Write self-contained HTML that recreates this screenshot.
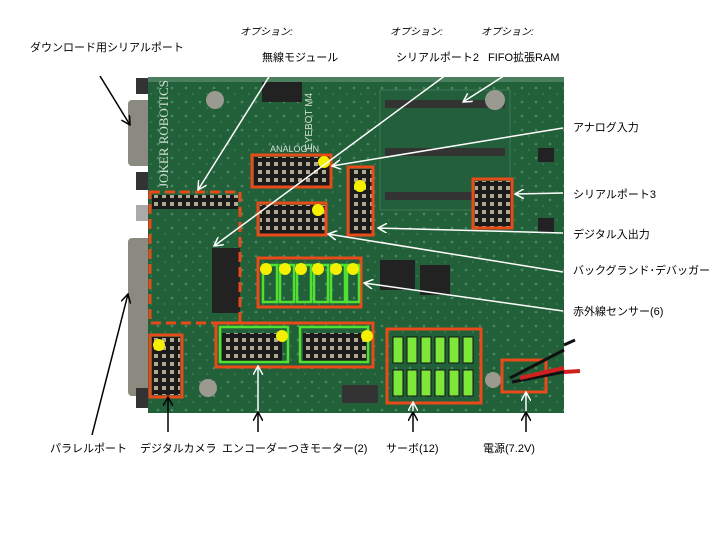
<!DOCTYPE html>
<html><head><meta charset="utf-8"><style>
body{margin:0;background:#fff;width:720px;height:540px;overflow:hidden}
svg text{font-family:"Liberation Sans","Noto Sans CJK JP",sans-serif;font-size:11px;fill:#000}
</style></head><body>
<svg width="720" height="540" viewBox="0 0 720 540">
<defs>
<marker id="aw" markerWidth="10" markerHeight="10" refX="9" refY="5" orient="auto" markerUnits="userSpaceOnUse"><path d="M0,0 L9,5 L0,10" fill="none" stroke="#fff" stroke-width="1.5"/></marker>
<marker id="ab" markerWidth="10" markerHeight="10" refX="9" refY="5" orient="auto" markerUnits="userSpaceOnUse"><path d="M0,0 L9,5 L0,10" fill="none" stroke="#000" stroke-width="1.5"/></marker>
<pattern id="pins" width="8" height="8" patternUnits="userSpaceOnUse"><rect width="8" height="8" fill="#1a1a1a"/><rect x="2" y="2" width="4" height="4" fill="#b0a890"/></pattern>
<pattern id="dots" width="14" height="14" patternUnits="userSpaceOnUse"><rect width="14" height="14" fill="#22603a"/><circle cx="4" cy="4" r="1.3" fill="#4d8a64"/><circle cx="11" cy="10" r="1" fill="#3a7a52"/></pattern>
</defs>
<rect x="128" y="100" width="24" height="66" rx="4" fill="#8a8a80"/>
<rect x="136" y="78" width="16" height="16" fill="#333"/>
<rect x="136" y="172" width="16" height="18" fill="#333"/>
<rect x="128" y="238" width="24" height="158" rx="4" fill="#8a8a80"/>
<rect x="136" y="205" width="16" height="16" fill="#aaa"/>
<rect x="136" y="388" width="16" height="20" fill="#333"/>
<rect x="148" y="77" width="416" height="336" fill="url(#dots)"/>
<rect x="148" y="77" width="416" height="5" fill="#4c7e60"/>
<rect x="380" y="90" width="130" height="120" fill="#245f3c" stroke="#3d7a55"/>
<rect x="385" y="100" width="120" height="8" fill="#333"/>
<rect x="385" y="148" width="120" height="8" fill="#333"/>
<rect x="385" y="192" width="120" height="8" fill="#333"/>
<rect x="262" y="82" width="40" height="20" fill="#222"/>
<rect x="380" y="260" width="35" height="30" fill="#222"/>
<rect x="420" y="265" width="30" height="30" fill="#222"/>
<rect x="538" y="148" width="16" height="14" fill="#222"/>
<rect x="538" y="218" width="16" height="14" fill="#222"/>
<rect x="342" y="385" width="36" height="18" fill="#333"/>
<circle cx="215" cy="100" r="9" fill="#9a9a90"/>
<circle cx="495" cy="100" r="10" fill="#9a9a90"/>
<circle cx="208" cy="388" r="9" fill="#9a9a90"/>
<circle cx="493" cy="380" r="8" fill="#9a9a90"/>
<text x="168" y="188" transform="rotate(-90 168 188)" style="font-size:13px;fill:#cfe0d0;font-family:'Liberation Serif',serif">JOKER ROBOTICS</text>
<text x="312" y="150" transform="rotate(-90 312 150)" style="font-size:10px;fill:#cfe0d0">EYEBOT M4</text>
<text x="270" y="152" style="font-size:9px;fill:#cfe0d0">ANALOG IN</text>
<rect x="254" y="157" width="76" height="29" fill="url(#pins)"/>
<rect x="350" y="169" width="22" height="65" fill="url(#pins)"/>
<rect x="475" y="181" width="36" height="46" fill="url(#pins)"/>
<rect x="260" y="205" width="65" height="29" fill="url(#pins)"/>
<rect x="152" y="195" width="86" height="14" fill="url(#pins)"/>
<rect x="152" y="337" width="28" height="58" fill="url(#pins)"/>
<rect x="222" y="333" width="60" height="28" fill="url(#pins)"/>
<rect x="303" y="333" width="65" height="28" fill="url(#pins)"/>
<rect x="212" y="248" width="28" height="65" fill="#222"/>
<g fill="none" stroke="#e84a1a" stroke-width="3">
<rect x="252" y="155" width="79" height="32"/>
<rect x="348" y="167" width="25" height="68"/>
<rect x="473" y="179" width="39" height="49"/>
<rect x="258" y="203" width="68" height="32"/>
<rect x="258" y="258" width="103" height="49"/>
<rect x="150" y="335" width="32" height="62"/>
<rect x="216" y="323" width="157" height="44"/>
<rect x="387" y="329" width="94" height="74"/>
<rect x="502" y="360" width="44" height="32"/>
<rect x="150" y="192" width="90" height="131" stroke-dasharray="10,5"/>
</g>
<g fill="none" stroke="#50e030" stroke-width="2.5">
<rect x="220" y="327" width="68" height="35"/>
<rect x="300" y="327" width="68" height="35"/>
<rect x="263" y="265" width="14" height="37"/><rect x="280" y="265" width="14" height="37"/><rect x="297" y="265" width="14" height="37"/><rect x="314" y="265" width="14" height="37"/><rect x="331" y="265" width="14" height="37"/><rect x="347" y="265" width="12" height="37"/>
</g>
<g fill="#7ee83a" stroke="#111" stroke-width="1">
<rect x="393" y="337" width="10" height="26"/><rect x="407" y="337" width="10" height="26"/><rect x="421" y="337" width="10" height="26"/><rect x="435" y="337" width="10" height="26"/><rect x="449" y="337" width="10" height="26"/><rect x="463" y="337" width="10" height="26"/>
<rect x="393" y="370" width="10" height="26"/><rect x="407" y="370" width="10" height="26"/><rect x="421" y="370" width="10" height="26"/><rect x="435" y="370" width="10" height="26"/><rect x="449" y="370" width="10" height="26"/><rect x="463" y="370" width="10" height="26"/>
</g>
<path d="M510 378 L564 350 M512 382 L564 372" stroke="#111" stroke-width="3"/>
<path d="M520 378 L564 368" stroke="#d02020" stroke-width="4"/>
<path d="M564 345 L575 340" stroke="#111" stroke-width="3"/>
<path d="M564 372 L580 371" stroke="#d02020" stroke-width="4"/>
<g fill="#f5f000">
<circle cx="324" cy="162" r="6"/><circle cx="360" cy="186" r="6"/><circle cx="318" cy="210" r="6"/>
<circle cx="266" cy="269" r="6"/><circle cx="285" cy="269" r="6"/><circle cx="301" cy="269" r="6"/><circle cx="318" cy="269" r="6"/><circle cx="336" cy="269" r="6"/><circle cx="353" cy="269" r="6"/>
<circle cx="282" cy="336" r="6"/><circle cx="367" cy="336" r="6"/><circle cx="159" cy="345" r="6"/>
</g>
<g stroke="#fff" stroke-width="1.5" marker-end="url(#aw)">
<line x1="272" y1="72" x2="198" y2="190"/>
<line x1="450" y1="72" x2="214" y2="246"/>
<line x1="510" y1="72" x2="463" y2="102"/>
<line x1="563" y1="128" x2="332" y2="166"/>
<line x1="563" y1="193" x2="515" y2="194"/>
<line x1="563" y1="233" x2="378" y2="228"/>
<line x1="563" y1="272" x2="328" y2="234"/>
<line x1="563" y1="311" x2="364" y2="283"/>
<line x1="258" y1="412" x2="258" y2="366"/>
<line x1="413" y1="412" x2="413" y2="402"/>
<line x1="526" y1="412" x2="526" y2="392"/>
</g>
<g stroke="#000" stroke-width="1.5" marker-end="url(#ab)">
<line x1="100" y1="76" x2="130" y2="125"/>
<line x1="92" y1="435" x2="128" y2="294"/>
<line x1="168" y1="432" x2="168" y2="397"/>
<line x1="258" y1="432" x2="258" y2="412"/>
<line x1="413" y1="432" x2="413" y2="412"/>
<line x1="526" y1="432" x2="526" y2="412"/>
</g>
<text x="240" y="35" style="font-style:italic;font-size:10px">オプション:</text>
<text x="390" y="35" style="font-style:italic;font-size:10px">オプション:</text>
<text x="481" y="35" style="font-style:italic;font-size:10px">オプション:</text>
<text x="30" y="51">ダウンロード用シリアルポート</text>
<text x="262" y="61">無線モジュール</text>
<text x="396" y="61">シリアルポート2</text>
<text x="488" y="61">FIFO拡張RAM</text>
<text x="573" y="131">アナログ入力</text>
<text x="573" y="198">シリアルポート3</text>
<text x="573" y="238">デジタル入出力</text>
<text x="573" y="274">バックグランド･デバッガー</text>
<text x="573" y="315">赤外線センサー(6)</text>
<text x="50" y="452">パラレルポート</text>
<text x="140" y="452">デジタルカメラ</text>
<text x="222" y="452">エンコーダーつきモーター(2)</text>
<text x="386" y="452">サーボ(12)</text>
<text x="483" y="452">電源(7.2V)</text>
</svg>
</body></html>
